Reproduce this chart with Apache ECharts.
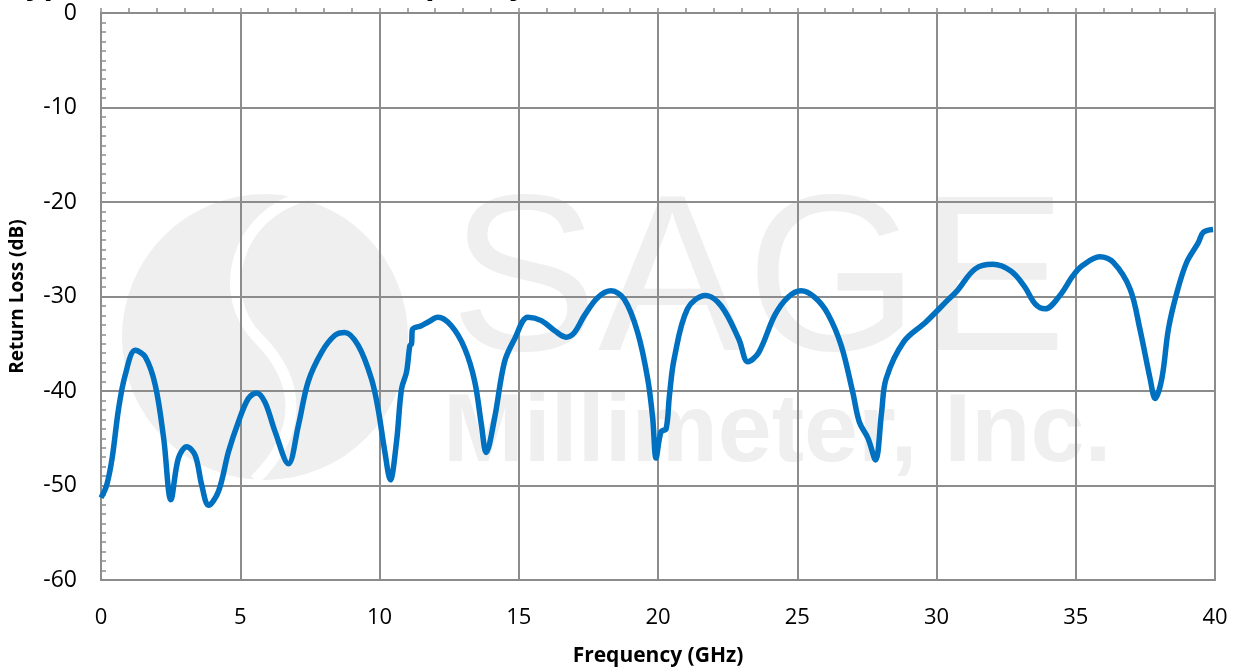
<!DOCTYPE html>
<html>
<head>
<meta charset="utf-8">
<script src="https://cdn.jsdelivr.net/npm/echarts@6/dist/echarts.min.js"></script>
<style>
html,body{margin:0;padding:0;background:#fff;}
#chart{width:1238px;height:672px;}
</style>
</head>
<body>
<div id="chart"></div>
<script>
// Frequency (GHz)
const freq = [0.0,0.2,0.4,0.63,0.87,1.23,1.59,1.95,2.25,2.51,2.78,3.08,3.38,3.62,3.86,4.22,4.58,4.93,5.29,5.59,5.89,6.25,6.73,7.09,7.44,7.92,8.40,8.76,9.24,9.71,9.95,10.19,10.39,10.61,10.79,10.97,11.09,11.15,11.18,11.5,11.75,12.1,12.58,13.06,13.42,13.66,13.83,14.13,14.49,14.85,15.33,15.81,16.28,16.7,17.0,17.36,17.84,18.32,18.79,19.27,19.63,19.81,19.93,20.11,20.29,20.41,20.58,21.06,21.70,22.27,22.9,23.23,23.62,24.19,24.66,25.14,25.63,26.1,26.58,26.99,27.23,27.54,27.81,28.03,28.19,28.82,29.62,30.43,30.74,31.38,32.02,32.67,33.15,33.55,33.9,34.43,34.9,35.23,35.86,36.35,36.95,37.3,37.67,37.85,38.09,38.33,38.63,38.98,39.4,39.58,39.93];
// Return loss (dB)
const returnLoss = [-51.3,-50.0,-47.1,-41.9,-38.3,-35.7,-36.4,-39.4,-45.0,-51.5,-47.1,-45.9,-46.8,-50.0,-52.1,-50.6,-46.4,-43.3,-40.8,-40.2,-41.2,-44.3,-47.7,-43.6,-39.0,-35.9,-34.1,-33.8,-35.2,-38.7,-41.9,-46.4,-49.4,-45.4,-39.8,-38.0,-35.2,-35.0,-33.5,-33.1,-32.7,-32.2,-33.1,-35.5,-39.0,-43.6,-46.5,-42.9,-36.9,-34.5,-32.2,-32.55,-33.6,-34.3,-33.8,-32.0,-30.1,-29.4,-30.3,-33.8,-38.7,-42.9,-47.1,-44.3,-44.0,-40.5,-36.6,-31.3,-29.9,-31.0,-34.5,-36.9,-35.9,-32.0,-30.1,-29.4,-30.1,-31.85,-35.2,-40.1,-43.3,-45.0,-47.3,-42.2,-38.7,-34.8,-32.7,-30.3,-29.4,-27.1,-26.6,-27.3,-28.9,-30.8,-31.3,-29.9,-27.8,-26.75,-25.8,-26.4,-29.2,-33.4,-38.7,-40.8,-38.7,-33.4,-29.6,-26.4,-24.3,-23.2,-22.9];

const xTicks = [0,5,10,15,20,25,30,35,40];
const yTicks = [0,-10,-20,-30,-40,-50,-60];

const chart = echarts.init(document.getElementById('chart'));
const gridColor = '#8c8c8c';
const wm = '#efefef';
const font = 'Open Sans, Noto Sans, sans-serif';

chart.setOption({
  animation:false,
  backgroundColor:'#fff',
  grid:{left:98,right:23,top:13,bottom:89,show:true,borderColor:gridColor,borderWidth:2,backgroundColor:'transparent'},
  graphic:[
    {type:'circle',z:-10,shape:{cx:265,cy:337,r:143},style:{fill:wm}},
    {type:'bezierCurve',z:-9,shape:{x1:305,y1:196,cpx1:235,cpy1:215,cpx2:215,cpy2:295,x2:258,y2:338},style:{fill:null,stroke:'#fff',lineWidth:11}},
    {type:'bezierCurve',z:-9,shape:{x1:258,y1:338,cpx1:300,cpy1:380,cpx2:305,cpy2:430,x2:255,y2:480},style:{fill:null,stroke:'#fff',lineWidth:11}},
    {type:'text',z:-9,left:450,top:178,style:{text:'SAGE',fill:wm,font:'normal 222px "Liberation Sans", sans-serif'}},
    {type:'text',z:-9,left:443,top:386,style:{text:'Millimeter, Inc.',fill:wm,font:'bold 97px "Liberation Sans", sans-serif'}},
    {type:'text',z:5,x:8,y:1,style:{text:'Typical Return Loss vs. Frequency',fill:'#000',verticalAlign:'bottom',align:'left',font:'bold 31px "Open Sans", sans-serif'}}
  ],
  xAxis:{
    type:'value',min:0,max:40,interval:5,
    axisLine:{show:true,lineStyle:{color:gridColor,width:2}},
    axisTick:{show:true,inside:true,length:5,lineStyle:{color:gridColor,width:1.5}},
    minorTick:{show:true,splitNumber:5,length:5,lineStyle:{color:gridColor,width:1.5}},
    splitLine:{show:true,lineStyle:{color:gridColor,width:2}},
    axisLabel:{color:'#000',fontSize:22,fontFamily:font,margin:27,
      formatter:v=>xTicks.indexOf(v)>=0?String(v):''},
    name:'Frequency (GHz)',nameLocation:'middle',nameGap:66,
    nameTextStyle:{color:'#000',fontSize:21,fontWeight:'bold',fontFamily:font}
  },
  yAxis:{
    type:'value',min:-60,max:0,interval:10,
    axisLine:{show:true,lineStyle:{color:gridColor,width:2}},
    axisTick:{show:true,inside:true,length:5,lineStyle:{color:gridColor,width:1.5}},
    minorTick:{show:true,splitNumber:10,length:5,lineStyle:{color:gridColor,width:1.5}},
    splitLine:{show:true,lineStyle:{color:gridColor,width:2}},
    axisLabel:{color:'#000',fontSize:23,fontFamily:font,margin:24,
      formatter:v=>yTicks.indexOf(v)>=0?String(v):''},
    name:'Return Loss (dB)',nameLocation:'middle',nameGap:74,
    nameTextStyle:{color:'#000',fontSize:19,fontWeight:'bold',fontFamily:font}
  },
  series:[{
    type:'line',
    data:freq.map((f,i)=>[f,returnLoss[i]]),
    smooth:0.35,
    showSymbol:false,
    lineStyle:{color:'#0070C0',width:5.5},
    z:3
  }]
});
</script>
</body>
</html>
